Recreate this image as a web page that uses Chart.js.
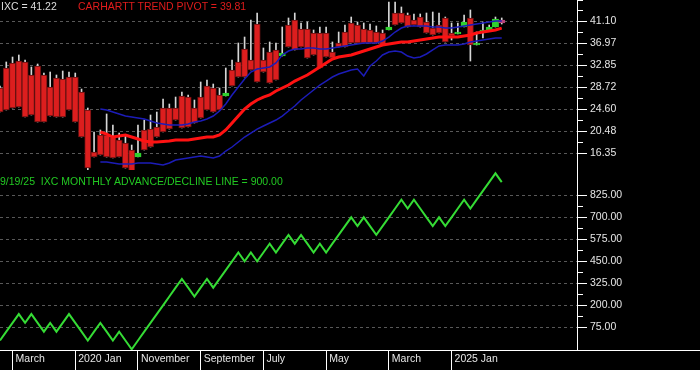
<!DOCTYPE html>
<html>
<head>
<meta charset="utf-8">
<script src="https://cdn.jsdelivr.net/npm/chart.js@4.4.1/dist/chart.umd.min.js"></script>
<style>
  html, body { margin: 0; padding: 0; background: #000; width: 700px; height: 370px; overflow: hidden; }
  canvas { position: absolute; left: 0; }
  #priceChart { top: 0; }
  #adChart { top: 170px; }
  .lbl { position: absolute; font: 10.5px "Liberation Sans", Arial, sans-serif; line-height: 13px; white-space: pre; }
  #baseline { position: absolute; left: 0; top: 350px; width: 700px; height: 1px; background: #fff; }
</style>
</head>
<body>
<canvas id="priceChart" width="700" height="170"></canvas>
<canvas id="adChart" width="700" height="200"></canvas>
<div id="baseline"></div>
<div class="lbl" style="left:1px;top:0px;color:#dcdcdc">IXC = 41.22</div>
<div class="lbl" style="left:78px;top:0px;color:#e01c1c">CARHARTT TREND PIVOT = 39.81</div>
<div class="lbl" style="left:0px;top:175px;color:#22c822">9/19/25  IXC MONTHLY ADVANCE/DECLINE LINE = 900.00</div>
<script>
// monthly categories, Jan 2019 .. Sep 2026 (axis runs past the last bar)
const months = [
  '2019-01','2019-02','2019-03','2019-04','2019-05','2019-06','2019-07','2019-08','2019-09','2019-10','2019-11','2019-12',
  '2020-01','2020-02','2020-03','2020-04','2020-05','2020-06','2020-07','2020-08','2020-09','2020-10','2020-11','2020-12',
  '2021-01','2021-02','2021-03','2021-04','2021-05','2021-06','2021-07','2021-08','2021-09','2021-10','2021-11','2021-12',
  '2022-01','2022-02','2022-03','2022-04','2022-05','2022-06','2022-07','2022-08','2022-09','2022-10','2022-11','2022-12',
  '2023-01','2023-02','2023-03','2023-04','2023-05','2023-06','2023-07','2023-08','2023-09','2023-10','2023-11','2023-12',
  '2024-01','2024-02','2024-03','2024-04','2024-05','2024-06','2024-07','2024-08','2024-09','2024-10','2024-11','2024-12',
  '2025-01','2025-02','2025-03','2025-04','2025-05','2025-06','2025-07','2025-08','2025-09','2025-10','2025-11','2025-12',
  '2026-01','2026-02','2026-03','2026-04','2026-05','2026-06','2026-07','2026-08','2026-09'
];
const xLabelMonths = ['2019-03', '2020-01', '2020-11', '2021-09', '2022-07', '2023-05', '2024-03', '2025-01'];
const xLabelTexts  = ['March', '2020 Jan', 'November', 'September', 'July', 'May', 'March', '2025 Jan'];

// bar bodies and wicks (price)
const bodyTop = [
  28.59, 32.34, 33.28, 33.65, 33.47, 31.03, 32.72, 31.03, 28.78, 30.47, 30.28, 30.65, 30.65,
  27.84, 24.47, 16.59, 19.78, 19.78, 19.40, 18.84, 18.28, 16.97, 16.40, 20.72, 20.90, 21.28,
  24.84, 24.84, 24.84, 27.09, 26.90, 24.84, 26.90, 28.97, 28.59, 27.28,
  27.65, 31.97, 33.47, 35.90, 33.84, 40.59, 33.84, 35.34, 35.72, 35.15,
  40.40, 41.34, 39.65, 39.65, 38.90, 38.90, 38.90, 35.34, 37.03, 39.09,
  40.78, 40.40, 39.65, 39.47, 39.09, 38.90, 40.03, 42.65, 42.65, 42.28,
  41.34, 41.90, 40.97, 39.84, 40.40, 41.72, 38.90, 39.09, 40.97, 41.72,
  37.03, 39.47, 40.03, 41.53, 41.34
];
const bodyBottom = [
  24.09, 24.47, 24.84, 25.03, 23.15, 23.53, 22.22, 22.22, 23.34, 23.15, 23.15, 24.47, 22.22,
  19.40, 13.59, 15.65, 16.03, 15.65, 15.47, 15.65, 13.59, 12.84, 15.65, 16.97, 17.53, 19.40,
  20.34, 20.90, 22.59, 21.09, 21.28, 22.03, 22.97, 24.47, 24.09, 24.47,
  27.09, 28.97, 30.65, 30.65, 31.97, 29.72, 31.59, 29.53, 30.09, 34.59,
  36.28, 35.72, 36.28, 34.22, 34.78, 32.34, 34.40, 34.22, 36.28, 36.28,
  37.03, 37.03, 37.03, 37.03, 37.03, 36.65, 39.47, 40.40, 40.78, 40.03,
  40.40, 40.03, 38.90, 38.53, 38.90, 37.22, 38.34, 38.72, 40.03, 36.65,
  36.65, 39.09, 39.28, 40.03, 40.78
];
const wickHigh = [
  28.97, 33.47, 34.40, 34.78, 33.84, 32.53, 33.09, 31.40, 31.59, 31.03, 31.78, 31.59, 31.40,
  28.40, 24.84, 20.34, 20.72, 23.72, 21.65, 20.15, 19.78, 17.90, 21.65, 22.59, 23.53, 24.09,
  26.53, 25.59, 26.90, 27.84, 27.28, 26.34, 29.72, 30.09, 29.34, 28.59,
  32.34, 33.84, 37.03, 38.15, 41.34, 42.65, 36.09, 37.22, 37.03, 40.03,
  41.72, 42.65, 40.78, 40.97, 39.47, 40.03, 40.03, 37.22, 39.09, 40.40,
  41.90, 40.97, 40.78, 40.59, 40.22, 39.47, 44.72, 44.72, 43.78, 42.65,
  42.47, 42.47, 42.65, 42.84, 42.65, 41.90, 40.78, 40.78, 42.28, 43.22,
  39.09, 40.97, 40.40, 41.90, 41.72
];
const wickLow = [
  24.09, 24.47, 24.84, 25.03, 23.15, 23.53, 22.22, 22.22, 23.34, 23.15, 23.15, 24.47, 22.22,
  19.40, 12.65, 15.65, 16.03, 15.65, 15.47, 15.65, 13.59, 12.84, 15.65, 16.97, 17.53, 19.40,
  20.34, 20.90, 22.59, 21.09, 21.28, 22.03, 22.97, 24.47, 24.09, 24.47,
  27.09, 28.97, 30.65, 30.65, 31.97, 29.72, 31.59, 29.53, 30.09, 34.59,
  36.28, 35.72, 36.28, 34.22, 34.78, 32.34, 34.40, 34.22, 36.28, 36.28,
  37.03, 37.03, 37.03, 37.03, 37.03, 36.65, 39.47, 40.40, 40.78, 40.03,
  40.40, 40.03, 38.90, 38.53, 38.90, 37.22, 37.59, 38.72, 40.03, 33.65,
  36.65, 37.97, 39.28, 40.03, 40.59
];
// r = red bar, g = green bar, c = current month
const barState = [
  'r','r','r','r','r','r','r','r','r','r','r','r','r',
  'r','r','r','r','r','r','r','r','r','g','r','r','r',
  'r','r','r','r','r','r','r','r','r','r',
  'g','r','r','r','r','r','r','r','r','g',
  'r','r','r','r','r','r','r','r','r','r',
  'r','r','r','r','r','r','g','r','r','r',
  'r','r','r','r','r','r','r','g','g','r',
  'g','g','g','g','c'
];

const trendPivot = [
  null, null, null, null, null, null, null, null, null, null, null, null, null, null, null, null,
  20.34, 19.96, 19.40, 19.59, 19.78, 19.40, 19.03, 18.65, 18.47, 18.47,
  18.56, 18.65, 18.84, 18.84, 18.84, 19.03, 19.22, 19.40, 19.40, 19.78,
  20.72, 22.03, 23.34, 24.65, 25.59, 26.34, 26.90, 27.28, 28.03, 28.59,
  29.15, 29.90, 30.47, 31.03, 31.78, 32.53, 33.28, 34.03, 34.40, 34.59,
  34.78, 35.15, 35.53, 35.90, 36.28, 36.65, 36.84, 37.03, 37.22, 37.22,
  37.40, 37.59, 37.78, 37.97, 38.15, 38.15, 38.15, 38.15, 38.34, 38.53,
  38.90, 39.09, 39.28, 39.47, 39.81
];
const upperBand = [
  null, null, null, null, null, null, null, null, null, null, null, null, null, null, null, null,
  24.65, 24.47, 24.09, 23.72, 23.34, 23.15, 22.97, 22.78, 22.40, 22.03,
  21.84, 21.65, 21.65, 21.65, 21.84, 22.22, 22.40, 22.78, 23.34, 24.28,
  25.59, 27.28, 28.78, 30.28, 31.59, 32.15, 32.34, 32.53, 33.28, 34.78,
  35.53, 35.90, 35.90, 36.09, 36.09, 35.90, 35.90, 36.09, 36.28, 36.47,
  36.65, 36.84, 37.03, 37.03, 37.03, 37.40, 38.15, 39.09, 39.84, 40.22,
  40.22, 40.22, 40.22, 40.03, 40.03, 39.84, 39.84, 40.03, 40.22, 40.40,
  40.59, 40.78, 40.97, 41.15, 41.15
];
const lowerBand = [
  null, null, null, null, null, null, null, null, null, null, null, null, null, null, null, null,
  14.72, 14.72, 14.53, 14.34, 14.34, 14.34, 14.53, 14.53, 14.53, 14.34,
  14.15, 14.53, 15.09, 15.28, 15.47, 15.65, 15.84, 15.65, 15.47, 15.84,
  16.78, 17.53, 18.47, 19.40, 20.15, 20.90, 21.47, 22.03, 22.59, 23.34,
  24.28, 25.22, 26.34, 27.28, 28.22, 29.15, 29.90, 30.65, 31.22, 31.59,
  31.97, 32.15, 30.84, 32.72, 33.65, 34.78, 35.34, 35.53, 35.34, 34.59,
  34.22, 34.40, 34.97, 35.72, 36.47, 36.65, 36.65, 36.65, 36.84, 37.22,
  37.40, 37.59, 37.78, 37.97, 37.97
];

const advanceDecline = [
  0, 50, 100, 150, 100, 150, 100, 50, 100, 50, 100, 150, 100,
  50, 0, 50, 100, 50, 0, 50, 0, -50, 0, 50, 100, 150,
  200, 250, 300, 350, 300, 250, 300, 350, 300, 350,
  400, 450, 500, 450, 500, 450, 500, 550, 500, 550,
  600, 550, 600, 550, 500, 550, 500, 550, 600, 650,
  700, 650, 700, 650, 600, 650, 700, 750, 800, 750,
  800, 750, 700, 650, 700, 650, 700, 750, 800, 750,
  800, 850, 900, 950, 900
];

const priceTicks = [41.10, 36.97, 32.85, 28.72, 24.60, 20.48, 16.35];
const priceMinorTicks = [45.09, 43.16, 39.04, 34.91, 30.79, 26.66, 22.54, 18.41];
const adTicks = [825, 700, 575, 450, 325, 200, 75];
const adMinorTicks = [762.5, 637.5, 512.5, 387.5, 262.5, 137.5];

const tickFont = { family: 'Liberation Sans', size: 10.5 };
const stateColors = { r: '#dc1e1e', g: '#2fd02f', c: '#b8457a' };

function rightAxis(min, max, majors, minors) {
  const isMajor = v => majors.includes(v);
  return {
    position: 'right',
    min: min,
    max: max,
    afterBuildTicks: s => { s.ticks = majors.concat(minors).map(v => ({ value: v })); },
    afterFit: s => { s.width = 123; s.paddingTop = 0; s.paddingBottom = 0; },
    border: { color: '#ffffff', width: 1, dash: [3, 3] },
    grid: {
      color: ctx => isMajor(ctx.tick.value) ? '#585858' : 'rgba(0,0,0,0)',
      tickColor: '#ffffff',
      tickLength: 10,
      tickBorderDash: ctx => isMajor(ctx.tick.value) ? [] : [5, 100]
    },
    ticks: {
      autoSkip: false,
      padding: 3,
      color: '#e6e6e6',
      font: tickFont,
      callback: v => isMajor(v) ? v.toFixed(2) : ''
    }
  };
}

new Chart(document.getElementById('priceChart'), {
  type: 'bar',
  data: {
    labels: months,
    datasets: [
      { type: 'line', data: trendPivot, borderColor: '#ff1212', borderWidth: 3, pointRadius: 0, order: 0 },
      { type: 'line', data: upperBand, borderColor: '#1c1cb8', borderWidth: 1.5, pointRadius: 0, order: 0 },
      { type: 'line', data: lowerBand, borderColor: '#1c1cb8', borderWidth: 1.5, pointRadius: 0, order: 0 },
      {
        data: bodyTop.map((t, i) => [bodyBottom[i], t]),
        backgroundColor: barState.map(s => stateColors[s]),
        borderColor: barState.map(s => s === 'r' ? '#6a1212' : stateColors[s]),
        borderWidth: 1,
        borderSkipped: false,
        grouped: false,
        barPercentage: 1,
        categoryPercentage: 1,
        order: 1
      },
      {
        data: wickHigh.map((h, i) => [wickLow[i], h]),
        backgroundColor: '#d6d6d6',
        barThickness: 1,
        grouped: false,
        order: 2
      }
    ]
  },
  options: {
    responsive: false,
    animation: false,
    events: [],
    layout: { padding: 0 },
    plugins: { legend: { display: false }, tooltip: { enabled: false } },
    scales: {
      x: { display: false, offset: false, grid: { offset: false } },
      y: rightAxis(13.22, 45.09, priceTicks, priceMinorTicks)
    }
  }
});

const labelFor = i => {
  const k = xLabelMonths.indexOf(months[i]);
  return k >= 0 ? xLabelTexts[k] : '';
};

new Chart(document.getElementById('adChart'), {
  type: 'line',
  data: {
    labels: months,
    datasets: [
      { data: advanceDecline, borderColor: '#35dc35', borderWidth: 2, pointRadius: 0, tension: 0 }
    ]
  },
  options: {
    responsive: false,
    animation: false,
    events: [],
    layout: { padding: 0 },
    plugins: { legend: { display: false }, tooltip: { enabled: false } },
    scales: {
      x: {
        offset: false,
        afterFit: s => { s.height = 20; s.paddingLeft = 0; s.paddingRight = 0; },
        border: { color: '#ffffff', width: 1 },
        grid: {
          offset: false,
          drawOnChartArea: false,
          tickLength: 20,
          color: 'rgba(0,0,0,0)',
          tickColor: ctx => labelFor(ctx.index) ? '#ffffff' : 'rgba(0,0,0,0)'
        },
        ticks: {
          autoSkip: false,
          maxRotation: 0,
          align: 'start',
          labelOffset: 3,
          padding: -17,
          color: '#e6e6e6',
          font: tickFont,
          callback: (v, i) => labelFor(i)
        }
      },
      y: rightAxis(-54, 968.75, adTicks, adMinorTicks)
    }
  }
});
</script>
</body>
</html>
